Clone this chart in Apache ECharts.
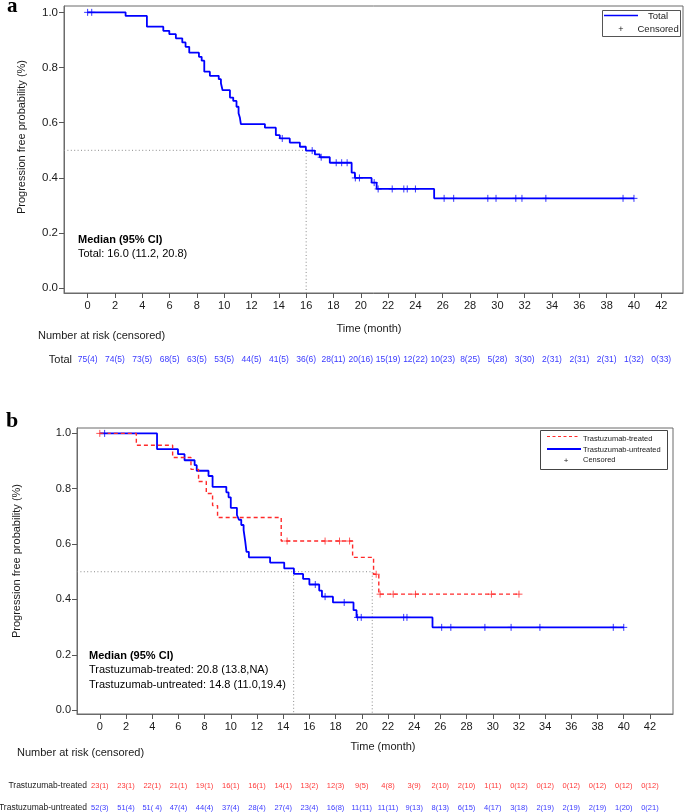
<!DOCTYPE html>
<html><head><meta charset="utf-8">
<script src="https://cdn.jsdelivr.net/npm/echarts@6/dist/echarts.min.js"></script>
<style>html,body{margin:0;padding:0;background:#fff}#c{width:685px;height:812px}</style>
</head><body><div id="c"></div>
<script>
// ---------- DATA ----------
const timeTicks = [0,2,4,6,8,10,12,14,16,18,20,22,24,26,28,30,32,34,36,38,40,42];
const probTicks = [0,0.2,0.4,0.6,0.8,1.0];

// Panel a: total KM curve (step points)
const totalTime = [0,2.78,4.34,5.54,5.98,6.46,6.93,7.17,7.44,8.15,8.35,8.54,8.95,9.6,9.76,9.88,10.42,10.66,10.9,11.05,11.15,11.22,12.98,13.78,14.07,14.8,15.54,15.98,16.64,17.0,17.73,19.33,19.57,20.79,21.16,25.37,40.0];
const totalSurv = [1.0,0.987,0.948,0.933,0.921,0.906,0.891,0.875,0.854,0.839,0.825,0.785,0.770,0.758,0.743,0.718,0.691,0.679,0.658,0.634,0.618,0.595,0.582,0.555,0.543,0.528,0.513,0.499,0.485,0.475,0.455,0.419,0.400,0.383,0.360,0.326,0.326];
const totalCensTime = [0,0.3,14.25,16.44,17.1,18.2,18.6,19.0,19.6,19.9,20.98,21.27,22.3,23.15,23.4,24.0,26.1,26.8,29.3,29.9,31.35,31.8,33.55,39.2,40.0];
const totalCensSurv = [1.0,1.0,0.543,0.499,0.475,0.455,0.455,0.455,0.400,0.400,0.383,0.360,0.360,0.360,0.360,0.360,0.326,0.326,0.326,0.326,0.326,0.326,0.326,0.326,0.326];
const totalMedian = 16.0;
const riskTotal = ['75(4)','74(5)','73(5)','68(5)','63(5)','53(5)','44(5)','41(5)','36(6)','28(11)','20(16)','15(19)','12(22)','10(23)','8(25)','5(28)','3(30)','2(31)','2(31)','2(31)','1(32)','0(33)'];

// Panel b: Trastuzumab-treated (red dashed)
const treatTime = [0,2.79,5.56,6.96,7.54,8.13,8.61,8.99,13.85,19.3,20.9,21.3,32.0];
const treatSurv = [1.0,0.957,0.913,0.870,0.826,0.783,0.739,0.696,0.611,0.552,0.491,0.419,0.419];
const treatCensTime = [0,14.3,17.2,18.3,19.07,21.1,21.4,22.4,24.1,29.9,32.0];
const treatCensSurv = [1.0,0.611,0.611,0.611,0.611,0.491,0.419,0.419,0.419,0.419,0.419];
const treatMedian = 20.8;

// Panel b: Trastuzumab-untreated (blue solid)
const untreatTime = [0,4.37,5.97,6.47,7.24,7.4,8.3,8.61,9.66,9.83,10.0,10.47,10.62,10.8,10.98,11.1,11.2,11.38,13.0,14.08,14.82,15.52,16.0,16.75,16.96,17.8,19.37,19.6,25.4,40.0];
const untreatSurv = [1.0,0.943,0.925,0.903,0.885,0.865,0.846,0.807,0.787,0.769,0.731,0.705,0.688,0.669,0.650,0.611,0.572,0.552,0.533,0.512,0.492,0.474,0.454,0.432,0.410,0.389,0.361,0.335,0.299,0.299];
const untreatCensTime = [0.37,16.45,17.2,18.66,19.68,19.96,23.2,23.45,26.1,26.8,29.4,31.4,33.6,39.2,40.0];
const untreatCensSurv = [1.0,0.454,0.410,0.389,0.335,0.335,0.335,0.335,0.299,0.299,0.299,0.299,0.299,0.299,0.299];
const untreatMedian = 14.8;

const riskTreat = ['23(1)','23(1)','22(1)','21(1)','19(1)','16(1)','16(1)','14(1)','13(2)','12(3)','9(5)','4(8)','3(9)','2(10)','2(10)','1(11)','0(12)','0(12)','0(12)','0(12)','0(12)','0(12)'];
const riskUntreat = ['52(3)','51(4)','51( 4)','47(4)','44(4)','37(4)','28(4)','27(4)','23(4)','16(8)','11(11)','11(11)','9(13)','8(13)','6(15)','4(17)','3(18)','2(19)','2(19)','2(19)','1(20)','0(21)'];

// ---------- LAYOUT ----------
const FONT = 'Liberation Sans, Arial, sans-serif';
const A = {left:64, top:6, width:619, height:287, xMin:-1.73, xMax:43.59, yMin:-0.017, yMax:1.023};
const B = {left:77, top:428, width:596, height:286, xMin:-1.74, xMax:43.76, yMin:-0.0141, yMax:1.0195};
const FRAME = '#6b6b6b';
const BLUE = '#0000ff';
const RED = '#ff2a2a';
const plus = 'path://M0,5L10,5M5,0L5,10';

function zip(a,b){ return a.map((v,i)=>[v,b[i]]); }

function plotX(P, idx, fs){
  return {gridIndex: idx, type:'value', min:P.xMin, max:P.xMax,
    axisLine:{show:true, onZero:false, lineStyle:{color:FRAME, width:1}},
    axisTick:{show:true, customValues:timeTicks, length:5, lineStyle:{color:'#555'}},
    axisLabel:{show:true, customValues:timeTicks, margin:7, color:'#1a1a1a', fontSize:fs, fontFamily:FONT},
    splitLine:{show:false}};
}
function plotY(P, idx, fs){
  return {gridIndex: idx, type:'value', min:P.yMin, max:P.yMax,
    axisLine:{show:true, onZero:false, lineStyle:{color:FRAME, width:1}},
    axisTick:{show:true, customValues:probTicks, length:5, lineStyle:{color:'#555'}},
    axisLabel:{show:true, customValues:probTicks, margin:6, color:'#1a1a1a', fontSize:fs, fontFamily:FONT,
      formatter: v => v.toFixed(1)},
    splitLine:{show:false}};
}
function hiddenX(P, idx){ return {gridIndex:idx, type:'value', min:P.xMin, max:P.xMax, show:false}; }
function hiddenY(idx, max){ return {gridIndex:idx, type:'value', min:0, max:max, show:false}; }

function riskSeries(idx, labels, yv, color, fs){
  return {type:'scatter', xAxisIndex:idx, yAxisIndex:idx, symbolSize:1, silent:true,
    itemStyle:{color:'rgba(0,0,0,0)'},
    data: timeTicks.map((t,i)=>({value:[t,yv], name:labels[i]})),
    label:{show:true, position:'inside', formatter: p=>p.name, color:color, fontSize:fs, fontFamily:FONT}};
}
function censSeries(idx, times, survs, color){
  return {type:'scatter', xAxisIndex:idx, yAxisIndex:idx, symbol:plus, symbolSize:7, silent:true, z:5,
    itemStyle:{color:'rgba(0,0,0,0)', borderColor:color, borderWidth:1},
    data: zip(times, survs)};
}
function dotted(idx, data){
  return {type:'line', xAxisIndex:idx, yAxisIndex:idx, symbol:'none', silent:true, z:1,
    lineStyle:{color:'#8a8a8a', width:1, type:[1,2.4]}, data:data};
}

const option = {
  animation:false,
  backgroundColor:'#fff',
  grid:[
    {left:A.left, top:A.top, width:A.width, height:A.height, show:true, borderColor:FRAME, borderWidth:1, outerBoundsMode:'none'},
    {left:A.left, top:350, width:A.width, height:20, outerBoundsMode:'none'},
    {left:B.left, top:B.top, width:B.width, height:B.height, show:true, borderColor:FRAME, borderWidth:1, outerBoundsMode:'none'},
    {left:B.left, top:775, width:B.width, height:44, outerBoundsMode:'none'}
  ],
  xAxis:[plotX(A,0,11), hiddenX(A,1), plotX(B,2,11), hiddenX(B,3)],
  yAxis:[plotY(A,0,11.5), hiddenY(1,1), plotY(B,2,11), hiddenY(3,2)],
  series:[
    dotted(0, [[A.xMin,0.5],[totalMedian,0.5],[totalMedian,A.yMin]]),
    {type:'line', xAxisIndex:0, yAxisIndex:0, step:'end', symbol:'none', silent:true, z:3,
      lineStyle:{color:BLUE, width:1.8}, data: zip(totalTime,totalSurv)},
    censSeries(0, totalCensTime, totalCensSurv, BLUE),
    riskSeries(1, riskTotal, 0.5, BLUE, 8.5),

    dotted(2, [[B.xMin,0.5],[treatMedian,0.5],[treatMedian,B.yMin]]),
    dotted(2, [[untreatMedian,0.5],[untreatMedian,B.yMin]]),
    {type:'line', xAxisIndex:2, yAxisIndex:2, step:'end', symbol:'none', silent:true, z:3,
      lineStyle:{color:BLUE, width:1.8}, data: zip(untreatTime,untreatSurv)},
    {type:'line', xAxisIndex:2, yAxisIndex:2, step:'end', symbol:'none', silent:true, z:4,
      lineStyle:{color:RED, width:1.4, type:[4,3]}, data: zip(treatTime,treatSurv)},
    censSeries(2, untreatCensTime, untreatCensSurv, BLUE),
    censSeries(2, treatCensTime, treatCensSurv, RED),
    riskSeries(3, riskTreat, 1.5, '#ff0000', 7.5),
    riskSeries(3, riskUntreat, 0.5, BLUE, 7.5)
  ],
  graphic:[
    // panel labels
    {type:'text', x:7, y:17, style:{text:'a', font:'bold 21px "Liberation Serif", serif', fill:'#000', verticalAlign:'bottom'}},
    {type:'text', left:6, top:410, style:{text:'b', font:'bold 22px "Liberation Serif", serif', fill:'#000'}},
    // y axis names
    {type:'text', x:22, y:137, rotation:Math.PI/2, style:{text:'Progression free probability (%)', font:'11px '+FONT, fill:'#1a1a1a', align:'center', verticalAlign:'middle'}},
    {type:'text', x:17, y:561, rotation:Math.PI/2, style:{text:'Progression free probability (%)', font:'11px '+FONT, fill:'#1a1a1a', align:'center', verticalAlign:'middle'}},
    // median texts
    {type:'text', x:78, y:240, style:{text:'Median (95% CI)', font:'bold 11px '+FONT, fill:'#000', verticalAlign:'middle'}},
    {type:'text', x:78, y:254, style:{text:'Total: 16.0 (11.2, 20.8)', font:'11px '+FONT, fill:'#000', verticalAlign:'middle'}},
    {type:'text', x:89, y:656, style:{text:'Median (95% CI)', font:'bold 11px '+FONT, fill:'#000', verticalAlign:'middle'}},
    {type:'text', x:89, y:670, style:{text:'Trastuzumab-treated: 20.8 (13.8,NA)', font:'11px '+FONT, fill:'#000', verticalAlign:'middle'}},
    {type:'text', x:89, y:685, style:{text:'Trastuzumab-untreated: 14.8 (11.0,19.4)', font:'11px '+FONT, fill:'#000', verticalAlign:'middle'}},
    // time labels
    {type:'text', x:369, y:329, style:{text:'Time (month)', font:'11px '+FONT, fill:'#1a1a1a', align:'center', verticalAlign:'middle'}},
    {type:'text', x:383, y:747, style:{text:'Time (month)', font:'11px '+FONT, fill:'#1a1a1a', align:'center', verticalAlign:'middle'}},
    // risk headers
    {type:'text', x:38, y:336, style:{text:'Number at risk (censored)', font:'11px '+FONT, fill:'#1a1a1a', verticalAlign:'middle'}},
    {type:'text', x:72, y:360, style:{text:'Total', font:'11px '+FONT, fill:'#1a1a1a', align:'right', verticalAlign:'middle'}},
    {type:'text', x:17, y:753, style:{text:'Number at risk (censored)', font:'11px '+FONT, fill:'#1a1a1a', verticalAlign:'middle'}},
    {type:'text', x:87, y:786, style:{text:'Trastuzumab-treated', font:'8.5px '+FONT, fill:'#1a1a1a', align:'right', verticalAlign:'middle'}},
    {type:'text', x:87, y:808, style:{text:'Trastuzumab-untreated', font:'8.5px '+FONT, fill:'#1a1a1a', align:'right', verticalAlign:'middle'}},
    // legend a
    {type:'rect', shape:{x:602.5, y:10.5, width:78, height:26}, style:{fill:'#fff', stroke:'#555', lineWidth:1}},
    {type:'line', shape:{x1:604, y1:15.5, x2:638, y2:15.5}, style:{stroke:BLUE, lineWidth:1.5}},
    {type:'text', x:648, y:16, style:{text:'Total', font:'9.5px '+FONT, fill:'#1a1a1a', verticalAlign:'middle'}},
    {type:'text', x:621, y:29.5, style:{text:'+', font:'9px '+FONT, fill:'#1a1a1a', align:'center', verticalAlign:'middle'}},
    {type:'text', x:637.5, y:29, style:{text:'Censored', font:'9.5px '+FONT, fill:'#1a1a1a', verticalAlign:'middle'}},
    // legend b
    {type:'rect', shape:{x:540.5, y:430.5, width:127, height:39}, style:{fill:'#fff', stroke:'#444', lineWidth:1}},
    {type:'line', shape:{x1:547, y1:436.5, x2:578, y2:436.5}, style:{stroke:RED, lineWidth:1, lineDash:[3,2.5]}},
    {type:'text', x:583, y:439, style:{text:'Trastuzumab-treated', font:'7.5px '+FONT, fill:'#1a1a1a', verticalAlign:'middle'}},
    {type:'line', shape:{x1:547, y1:449, x2:581, y2:449}, style:{stroke:BLUE, lineWidth:2}},
    {type:'text', x:583, y:449.5, style:{text:'Trastuzumab-untreated', font:'7.5px '+FONT, fill:'#1a1a1a', verticalAlign:'middle'}},
    {type:'text', x:566, y:461, style:{text:'+', font:'8px '+FONT, fill:'#1a1a1a', align:'center', verticalAlign:'middle'}},
    {type:'text', x:583, y:460, style:{text:'Censored', font:'7.5px '+FONT, fill:'#1a1a1a', verticalAlign:'middle'}}
  ]
};
const chart = echarts.init(document.getElementById('c'), null, {renderer:'canvas', width:685, height:812});
chart.setOption(option);
</script>
</body></html>
